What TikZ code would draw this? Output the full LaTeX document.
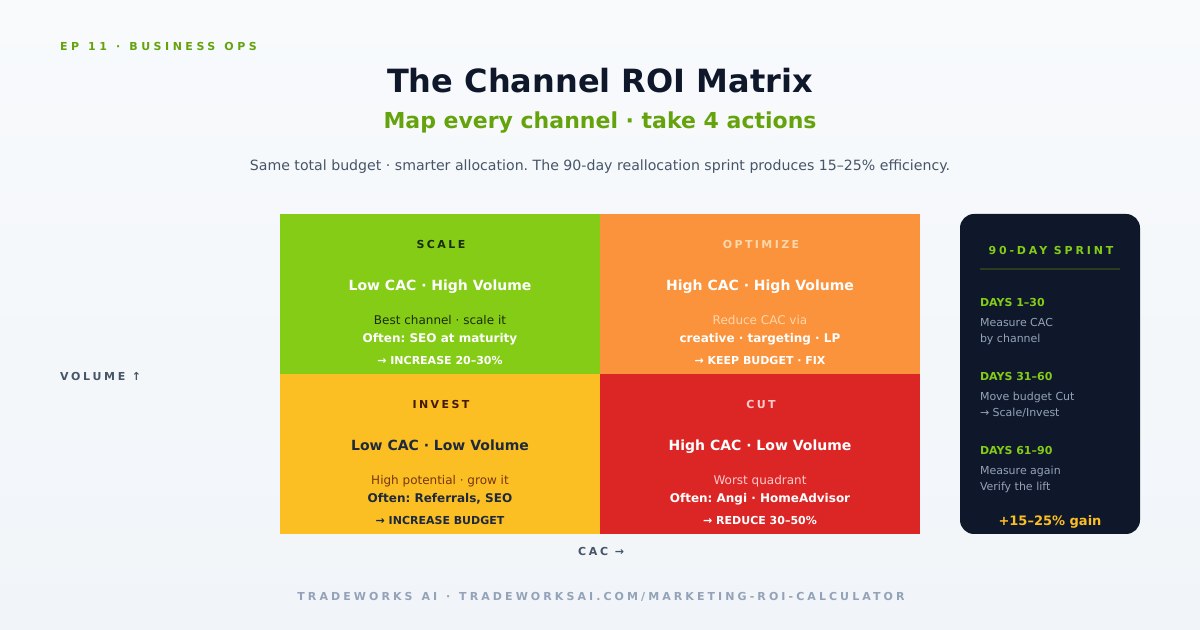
\documentclass[tikz,border=0pt]{standalone}
\usepackage{fontspec}
\setmainfont{DejaVu Sans}
\frenchspacing
\definecolor{bgtop}{HTML}{F8FAFC}
\definecolor{bgbot}{HTML}{F1F5F9}
\definecolor{navy}{HTML}{0F172A}
\definecolor{lime}{HTML}{65A30D}
\definecolor{slate}{HTML}{475569}
\definecolor{slatel}{HTML}{94A3B8}
\definecolor{qgreen}{HTML}{84CC16}
\definecolor{qorange}{HTML}{FB923C}
\definecolor{qyellow}{HTML}{FBBF24}
\definecolor{qred}{HTML}{DC2626}
\definecolor{dkgreen}{HTML}{1A2E05}
\definecolor{peach}{HTML}{FED7AA}
\definecolor{brown}{HTML}{451A03}
\definecolor{brownb}{HTML}{78350F}
\definecolor{darkslate}{HTML}{1E293B}
\definecolor{pink}{HTML}{FECACA}
\definecolor{sepline}{HTML}{2B3D1E}
\newcommand{\fsize}[1]{\fontsize{#1}{#1}\selectfont}
\newcommand{\spc}[1]{\addfontfeatures{LetterSpace=#1}}
\newcommand{\wsp}[1]{\ \hspace{#1}}
\tikzset{
  txt/.style={anchor=base, inner sep=0pt, outer sep=0pt},
  ltxt/.style={anchor=base west, inner sep=0pt, outer sep=0pt},
  quad/.style={minimum width=240pt, minimum height=120pt, inner sep=0pt, outer sep=0pt},
  qlabel/.style={txt, font=\fsize{8.25pt}\bfseries\spc{22}},
  qtitle/.style={txt, font=\fsize{10.5pt}\bfseries},
  qbody/.style={txt, font=\fsize{9pt}},
  qbold/.style={txt, font=\fsize{9pt}\bfseries},
  qact/.style={txt, font=\fsize{8.25pt}\bfseries},
  dayhd/.style={ltxt, font=\fsize{8.25pt}\bfseries, text=qgreen},
  daytx/.style={ltxt, font=\fsize{8.25pt}, text=slatel},
}
\begin{document}
\begin{tikzpicture}[x=0.75pt,y=-0.75pt]
\shade[top color=bgtop, bottom color=bgbot] (0,0) rectangle (1200,630);
\useasboundingbox (0,0) rectangle (1200,630);
% quadrants
\node[quad, fill=qgreen] (scale) at (440,294) {};
\node[quad, fill=qorange] (opt) at (760,294) {};
\node[quad, fill=qyellow] (inv) at (440,454) {};
\node[quad, fill=qred] (cut) at (760,454) {};
% sprint panel
\node[fill=navy, rounded corners=10.5pt, minimum width=135pt, minimum height=240pt, inner sep=0pt, outer sep=0pt] (sprint) at (1050,374) {};
\coordinate (sl) at (980,269);
\coordinate (sr) at (1120,269);
\draw[sepline, line width=1.5pt] (sl) -- (sr);
\begin{scope}[shift={(0,1)}]
% header
\node[ltxt, font=\fsize{8.25pt}\bfseries\spc{32}, text=lime] (ep) at (60,50) {EP\wsp{1.3pt}11\wsp{1.3pt}·\wsp{1.3pt}BUSINESS\wsp{1.3pt}OPS};
\node[txt, font=\fsize{24pt}\bfseries, text=navy] (title) at (600,92) {The Channel ROI Matrix};
\node[txt, font=\fsize{16.5pt}\bfseries, text=lime] (sub) at (600,128) {Map every channel · take 4 actions};
\node[txt, font=\fsize{10.6pt}, text=slate] (desc) at (600,170) {Same total budget · smarter allocation. The 90-day reallocation sprint produces 15–25\% efficiency.};
% SCALE
\node[qlabel, text=dkgreen] (scaleL) at (441,248) {SCALE};
\node[qtitle, text=white] (scaleT) at (440,290) {Low CAC · High Volume};
\node[qbody, text=dkgreen] (scaleB) at (440,324) {Best channel · scale it};
\node[qbold, text=white] (scaleO) at (440,342) {Often: SEO at maturity};
\node[qact, text=white] (scaleA) at (440,364) {→ INCREASE 20–30\%};
% OPTIMIZE
\node[qlabel, text=peach] (optL) at (761,248) {OPTIMIZE};
\node[qtitle, text=white] (optT) at (760,290) {High CAC · High Volume};
\node[qbody, text=peach] (optB) at (760,324) {Reduce CAC via};
\node[qbold, text=white] (optO) at (760,342) {creative · targeting · LP};
\node[qact, text=white] (optA) at (760,364) {→ KEEP BUDGET · FIX};
% INVEST
\node[qlabel, text=brown] (invL) at (441,408) {INVEST};
\node[qtitle, text=darkslate] (invT) at (440,450) {Low CAC · Low Volume};
\node[qbody, text=brownb] (invB) at (440,484) {High potential · grow it};
\node[qbold, text=darkslate] (invO) at (440,502) {Often: Referrals, SEO};
\node[qact, text=darkslate] (invA) at (440,524) {→ INCREASE BUDGET};
% CUT
\node[qlabel, text=pink] (cutL) at (761,408) {CUT};
\node[qtitle, text=white] (cutT) at (760,450) {High CAC · Low Volume};
\node[qbody, text=pink] (cutB) at (760,484) {Worst quadrant};
\node[qbold, text=white] (cutO) at (760,502) {Often: Angi · HomeAdvisor};
\node[qact, text=white] (cutA) at (760,524) {→ REDUCE 30–50\%};
% axes
\node[ltxt, font=\fsize{8.25pt}\bfseries\spc{25}, text=slate] (vol) at (60,380) {VOLUME ↑};
\node[txt, font=\fsize{8.25pt}\bfseries\spc{25}, text=slate] (cac) at (601,555) {CAC →};
% sprint text
\node[txt, font=\fsize{8.25pt}\bfseries\spc{26}, text=qgreen] (sprH) at (1051,254) {90-DAY SPRINT};
\node[dayhd] (d1) at (980,306) {DAYS 1–30};
\node[daytx] (d1a) at (980,326) {Measure CAC};
\node[daytx] (d1b) at (980,342) {by channel};
\node[dayhd] (d2) at (980,380) {DAYS 31–60};
\node[daytx] (d2a) at (980,400) {Move budget Cut};
\node[daytx] (d2b) at (980,416) {→ Scale/Invest};
\node[dayhd] (d3) at (980,454) {DAYS 61–90};
\node[daytx] (d3a) at (980,474) {Measure again};
\node[daytx] (d3b) at (980,490) {Verify the lift};
\node[txt, font=\fsize{9.75pt}\bfseries, text=qyellow] (gain) at (1050,525) {+15–25\% gain};
% footer
\node[txt, font=\fsize{8.25pt}\bfseries\spc{28}, text=slatel] (foot) at (601,600) {TRADEWORKS\wsp{1.5pt}AI\wsp{1.5pt}·\wsp{1.5pt}TRADEWORKSAI.COM/MARKETING-ROI-CALCULATOR};
\end{scope}
\end{tikzpicture}
\end{document}
